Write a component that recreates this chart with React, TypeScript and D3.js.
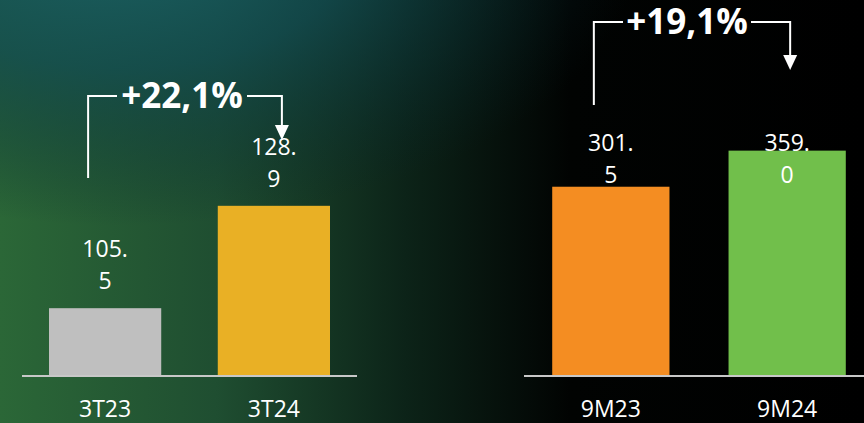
import React from "react";
import * as d3 from "d3";

const leftCategories = ["3T23", "3T24"];
const leftValues = [105.5, 128.9];
const leftLabels = [["105.", "5"], ["128.", "9"]];
const leftChange = "+22,1%";

const rightCategories = ["9M23", "9M24"];
const rightValues = [301.5, 359.0];
const rightLabels = [["301.", "5"], ["359.", "0"]];
const rightChange = "+19,1%";

const leftColors = ["#bfbfbf", "#e9b025"];
const rightColors = ["#f48d22", "#71bf4b"];

const W = 864;
const H = 423;
const BASE = 376;
const FONT = "'Open Sans', 'Noto Sans', sans-serif";

type PanelProps = {
  cats: string[];
  vals: number[];
  labels: string[][];
  colors: string[];
  change: string;
  xRange: [number, number];
  axisEnd: number;
  yDomain: [number, number];
  yTop: number;
  labelY: (top: number) => number;
  bracket: { x0off: number; x1off: number; top: number; startY: number; tipY: number; textHalf: number; textShift: number };
};

function Panel(p: PanelProps) {
  const x = d3.scaleBand<string>().domain(p.cats).range(p.xRange).paddingInner(0.335).paddingOuter(0.16);
  const y = d3.scaleLinear().domain(p.yDomain).range([BASE, p.yTop]);
  const c0 = (x(p.cats[0]) as number) + x.bandwidth() / 2;
  const c1 = (x(p.cats[1]) as number) + x.bandwidth() / 2;
  const bx0 = c0 + p.bracket.x0off;
  const bx1 = c1 + p.bracket.x1off;
  const tc = (bx0 + bx1) / 2 + p.bracket.textShift;
  const b = p.bracket;
  const ah = 15;
  const aw = 7;
  return (
    <g>
      {p.cats.map((c, i) => (
        <rect key={c} x={x(c)} y={y(p.vals[i])} width={x.bandwidth()} height={BASE - y(p.vals[i])} fill={p.colors[i]} />
      ))}
      <line x1={p.xRange[0]} x2={p.axisEnd} y1={BASE} y2={BASE} stroke="#c8c8c8" strokeWidth={2} />
      {p.cats.map((c, i) => {
        const cx = (x(c) as number) + x.bandwidth() / 2;
        const ly = p.labelY(y(p.vals[i]));
        return (
          <text key={"l" + c} x={cx} textAnchor="middle" fill="#fff" fontFamily={FONT} fontSize={23}>
            <tspan x={cx} y={ly - 32}>{p.labels[i][0]}</tspan>
            <tspan x={cx} y={ly}>{p.labels[i][1]}</tspan>
          </text>
        );
      })}
      {p.cats.map((c) => {
        const cx = (x(c) as number) + x.bandwidth() / 2;
        return (
          <text key={"c" + c} x={cx} y={417} textAnchor="middle" fill="#fff" fontFamily={FONT} fontSize={23}>
            {c}
          </text>
        );
      })}
      <path
        d={`M${bx0},${b.startY}V${b.top}H${tc - b.textHalf}M${tc + b.textHalf},${b.top}H${bx1}V${b.tipY - ah + 1}`}
        fill="none"
        stroke="#fff"
        strokeWidth={2}
      />
      <path d={`M${bx1 - aw},${b.tipY - ah}L${bx1 + aw},${b.tipY - ah}L${bx1},${b.tipY}Z`} fill="#fff" />
      <text x={tc} y={b.top + 12} textAnchor="middle" fill="#fff" fontFamily={FONT} fontWeight={700} fontSize={35}>
        {p.change}
      </text>
    </g>
  );
}

export default function App() {
  return (
    <svg width={W} height={H} style={{ display: "block", position: "absolute", left: 0, top: 0 }}>
      <defs>
        <linearGradient id="bgH" x1="0" y1="0" x2="1" y2="0">
          <stop offset="0" stopColor="#2b6737" />
          <stop offset="0.25" stopColor="#1f4e31" />
          <stop offset="0.47" stopColor="#0c2318" />
          <stop offset="0.66" stopColor="#010302" />
          <stop offset="1" stopColor="#000" />
        </linearGradient>
        <radialGradient id="bgT" gradientUnits="userSpaceOnUse" cx={120} cy={-60} r={520} gradientTransform="translate(120,-60) scale(1,0.55) translate(-120,60)">
          <stop offset="0" stopColor="#1b6266" stopOpacity={0.95} />
          <stop offset="0.45" stopColor="#114a52" stopOpacity={0.75} />
          <stop offset="1" stopColor="#06252c" stopOpacity={0} />
        </radialGradient>
      </defs>
      <rect x={0} y={0} width={W} height={H} fill="url(#bgH)" />
      <rect x={0} y={0} width={W} height={H} fill="url(#bgT)" />
      <Panel
        cats={leftCategories}
        vals={leftValues}
        labels={leftLabels}
        colors={leftColors}
        change={leftChange}
        xRange={[22, 357]}
        axisEnd={357}
        yDomain={[90, 130]}
        yTop={201}
        labelY={(top) => top - 19}
        bracket={{ x0off: -17, x1off: 8, top: 96, startY: 178, tipY: 140, textHalf: 65, textShift: -3 }}
      />
      <Panel
        cats={rightCategories}
        vals={rightValues}
        labels={rightLabels}
        colors={rightColors}
        change={rightChange}
        xRange={[524, 874]}
        axisEnd={874}
        yDomain={[0, 360]}
        yTop={150}
        labelY={() => 183}
        bracket={{ x0off: -17, x1off: 3, top: 22, startY: 105, tipY: 70, textHalf: 64, textShift: -5 }}
      />
    </svg>
  );
}
